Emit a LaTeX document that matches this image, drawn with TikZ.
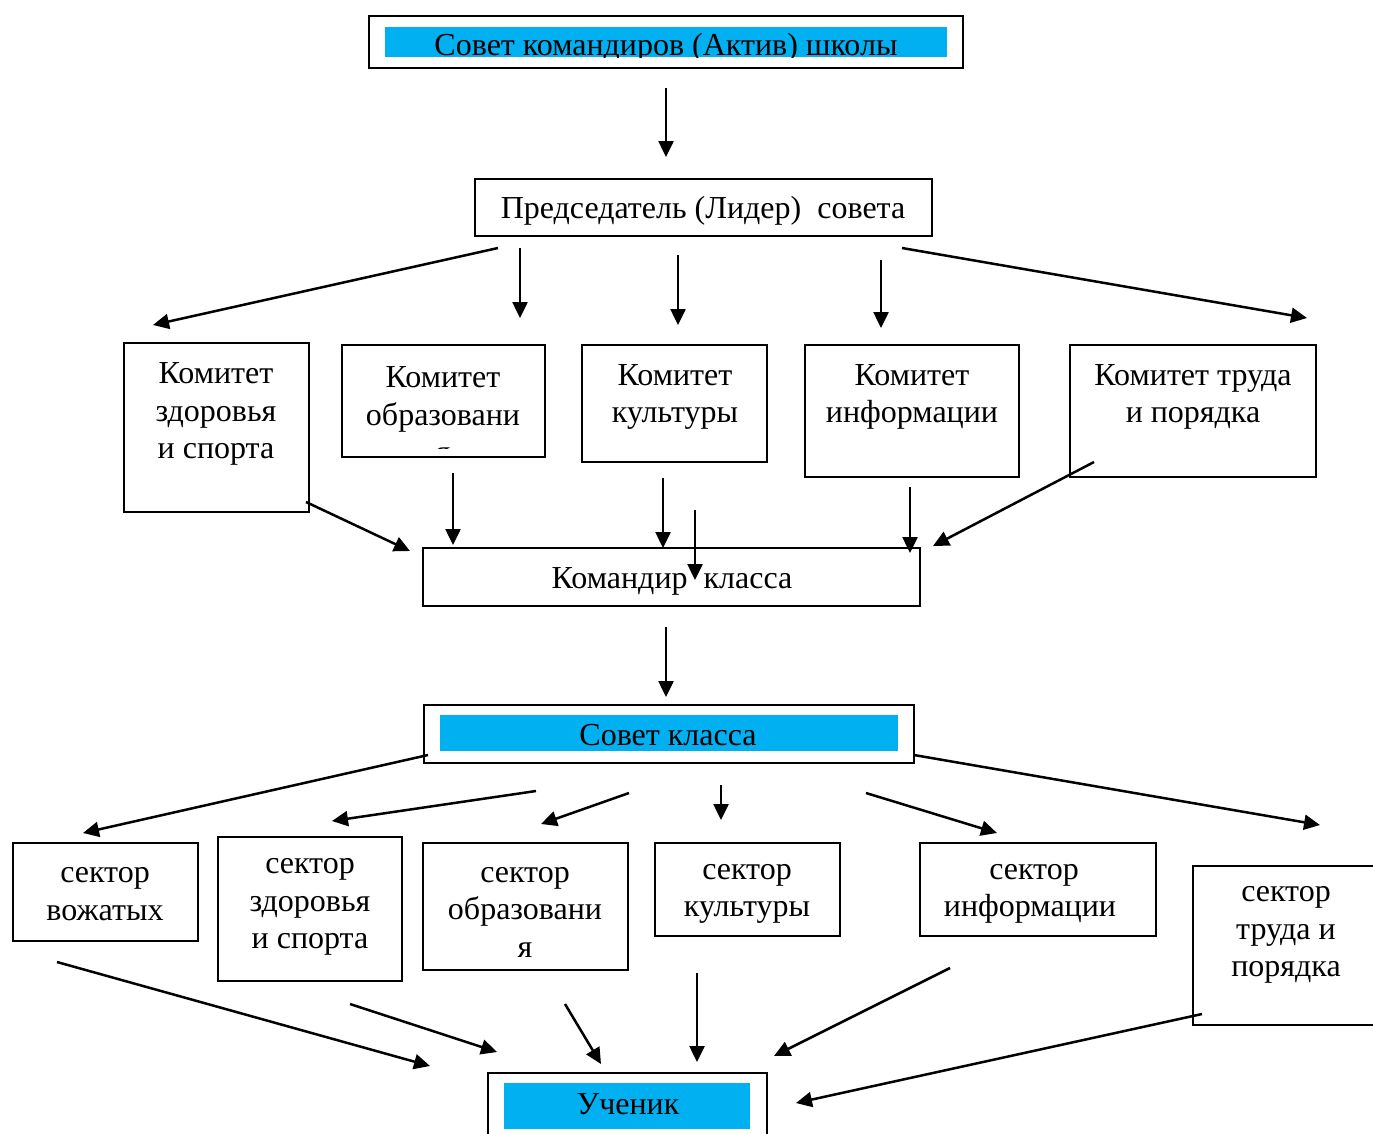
\documentclass[tikz,border=0pt]{standalone}
\usepackage{fontspec}
\setmainfont{Liberation Serif}
\usetikzlibrary{arrows.meta}
\definecolor{hdrblue}{HTML}{00B0F0}
\begin{document}
\begin{tikzpicture}[x=1pt,y=-1pt,
  box/.style={draw=black,line width=1.9pt,fill=none,inner sep=0pt,rectangle},
  band/.style={fill=hdrblue,draw=none,inner sep=0pt,rectangle},
  lbl/.style={inner sep=0pt,align=center,font=\fontsize{32}{37.5}\selectfont},
  arr/.style={line width=2.5pt,-{Triangle[length=16pt,width=15pt]}}]
\useasboundingbox[fill=white] (0,0) rectangle (1373,1133);
% top
\node[box,minimum width=594pt,minimum height=52pt] (top) at (666,42) {};
\node[band,minimum width=562pt,minimum height=30pt] (topb) at (666,42) {};
\begin{scope}
\clip (385,27) rectangle (947,57);
\node[lbl] (topt) at (666,48) {Совет командиров (Актив) школы};
\end{scope}
% chairman
\node[box,minimum width=457pt,minimum height=57pt] (pred) at (703.5,207.5) {};
\node[lbl] (predt) at (703,211) {Председатель (Лидер)\ \ совета};
% committees
\node[box,minimum width=185pt,minimum height=169pt] (k1) at (216.5,427.5) {};
\node[lbl] (k1t) at (216,414) {Комитет\\здоровья\\и спорта};
\node[box,minimum width=203pt,minimum height=112pt] (k2) at (443.5,401) {};
\begin{scope}
\clip (342,345) rectangle (545,448);
\node[lbl] (k2t) at (443,415) {Комитет\\образовани\\я};
\end{scope}
\node[box,minimum width=185pt,minimum height=117pt] (k3) at (674.5,403.5) {};
\node[lbl] (k3t) at (675,397) {Комитет\\культуры};
\node[box,minimum width=214pt,minimum height=132pt] (k4) at (912,411) {};
\node[lbl] (k4t) at (912,397) {Комитет\\информации};
\node[box,minimum width=246pt,minimum height=132pt] (k5) at (1193,411) {};
\node[lbl] (k5t) at (1193,397) {Комитет труда\\и порядка};
% class commander
\node[box,minimum width=497pt,minimum height=58pt] (kom) at (671.5,577) {};
\node[lbl] (komt) at (672,581) {Командир\ \ класса};
% class council
\node[box,minimum width=490pt,minimum height=58pt] (sk) at (669,734) {};
\node[band,minimum width=458pt,minimum height=36pt] (skb) at (669,733) {};
\node[lbl] (skt) at (668,735) {Совет класса};
% sectors
\node[box,minimum width=185pt,minimum height=98pt] (s1) at (105.5,892) {};
\node[lbl] (s1t) at (105,894) {сектор\\вожатых};
\node[box,minimum width=184pt,minimum height=144pt] (s2) at (310,909) {};
\node[lbl] (s2t) at (310,907) {сектор\\здоровья\\и спорта};
\node[box,minimum width=205pt,minimum height=127pt] (s3) at (525.5,906.5) {};
\node[lbl] (s3t) at (525,912) {сектор\\образовани\\я};
\node[box,minimum width=185pt,minimum height=93pt] (s4) at (747.5,889.5) {};
\node[lbl] (s4t) at (747,894) {сектор\\культуры};
\node[box,minimum width=236pt,minimum height=93pt] (s5) at (1038,889.5) {};
\node[lbl] (s5t) at (1030,894) {\ сектор\\информации};
\node[box,minimum width=197pt,minimum height=159pt] (s6) at (1291.5,945.5) {};
\node[lbl] (s6t) at (1286,935) {сектор\\труда и\\порядка};
% pupil
\node[box,minimum width=279pt,minimum height=72pt] (uch) at (627.5,1109) {};
\node[band,minimum width=246pt,minimum height=46pt] (uchb) at (627,1106) {};
\node[lbl] (ucht) at (628,1104) {Ученик};
% arrow endpoints
\coordinate (a0s) at (666,88);   \coordinate (a0e) at (666,157);
\coordinate (b1s) at (498,248);  \coordinate (b1e) at (153,325);
\coordinate (b2s) at (520,248);  \coordinate (b2e) at (520,318);
\coordinate (b3s) at (678,255);  \coordinate (b3e) at (678,325);
\coordinate (b4s) at (881,260);  \coordinate (b4e) at (881,328);
\coordinate (b5s) at (902,248);  \coordinate (b5e) at (1307,318);
\coordinate (c1s) at (306,502);  \coordinate (c1e) at (410,551);
\coordinate (c2s) at (453,473);  \coordinate (c2e) at (453,545);
\coordinate (c3s) at (663,478);  \coordinate (c3e) at (663,548);
\coordinate (c4s) at (695,510);  \coordinate (c4e) at (695,580);
\coordinate (c5s) at (910,487);  \coordinate (c5e) at (910,553);
\coordinate (c6s) at (1094,462); \coordinate (c6e) at (933,546);
\coordinate (d0s) at (666,627);  \coordinate (d0e) at (666,697);
\coordinate (e1s) at (428,755);  \coordinate (e1e) at (83,833);
\coordinate (e2s) at (536,791);  \coordinate (e2e) at (332,821);
\coordinate (e3s) at (629,793);  \coordinate (e3e) at (541,824);
\coordinate (e4s) at (721,785);  \coordinate (e4e) at (721,820);
\coordinate (e5s) at (866,793);  \coordinate (e5e) at (997,833);
\coordinate (e6s) at (914,755);  \coordinate (e6e) at (1320,825);
\coordinate (f1s) at (57,962);   \coordinate (f1e) at (430,1066);
\coordinate (f2s) at (350,1004); \coordinate (f2e) at (497,1052);
\coordinate (f3s) at (565,1004); \coordinate (f3e) at (601,1064);
\coordinate (f4s) at (697,973);  \coordinate (f4e) at (697,1062);
\coordinate (f5s) at (950,968);  \coordinate (f5e) at (774,1056);
\coordinate (f6s) at (1202,1014);\coordinate (f6e) at (796,1103);
\foreach \a in {a0,b1,b2,b3,b4,b5,c1,c2,c3,c4,c5,c6,d0,e1,e2,e3,e4,e5,e6,f1,f2,f3,f4,f5,f6}
  \draw[arr] (\a s) -- (\a e);
\end{tikzpicture}
\end{document}
